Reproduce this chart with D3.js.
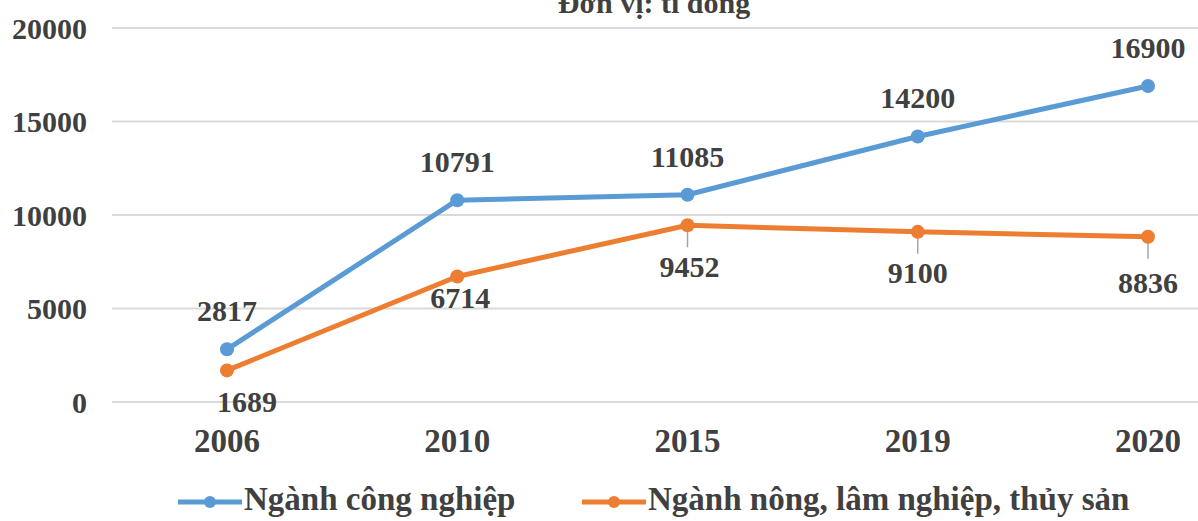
<!DOCTYPE html>
<html>
<head>
<meta charset="utf-8">
<script src="https://cdn.jsdelivr.net/npm/d3@7"></script>
<style>
  body { margin: 0; background: #fff; }
  text { font-family: "Liberation Serif", "Times New Roman", serif; font-weight: bold; fill: #404040; }
</style>
</head>
<body>
<div id="chart"></div>
<script>
// Data
const years = ["2006", "2010", "2015", "2019", "2020"];
const congNghiep = [2817, 10791, 11085, 14200, 16900];
const nongNghiep = [1689, 6714, 9452, 9100, 8836];
const yTicks = [0, 5000, 10000, 15000, 20000];
const seriesNames = ["Ngành công nghiệp", "Ngành nông, lâm nghiệp, thủy sản"];

const width = 1198;
const height = 521;
const blue = "#5B9BD5";
const orange = "#ED7D31";

const svg = d3.select("#chart")
  .append("svg")
    .attr("width", width)
    .attr("height", height);

// Scales
const x = d3.scalePoint()
  .domain(years)
  .range([227, 1148]);
const y = d3.scaleLinear()
  .domain([0, 20000])
  .range([402, 28]);

// Title (cut off at top, as in the original)
svg.append("text")
  .attr("x", 654)
  .attr("y", 13)
  .attr("text-anchor", "middle")
  .attr("font-size", 30)
  .text("Đơn vị: tỉ đồng");

// Gridlines
svg.append("g")
  .selectAll("line")
  .data(yTicks)
  .join("line")
    .attr("x1", 112)
    .attr("x2", width)
    .attr("y1", d => y(d))
    .attr("y2", d => y(d))
    .attr("stroke", "#d9d9d9")
    .attr("stroke-width", 2);

// Y labels
svg.append("g")
  .selectAll("text")
  .data(yTicks)
  .join("text")
    .attr("x", 87)
    .attr("y", d => y(d))
    .attr("dy", "0.35em")
    .attr("text-anchor", "end")
    .attr("font-size", 30)
    .text(d => d);

// X labels
svg.append("g")
  .selectAll("text")
  .data(years)
  .join("text")
    .attr("x", d => x(d))
    .attr("y", 452)
    .attr("text-anchor", "middle")
    .attr("font-size", 33)
    .text(d => d);

const line = d3.line()
  .x((d, i) => x(years[i]))
  .y(d => y(d));

const drawSeries = (values, color) => {
  svg.append("path")
    .attr("d", line(values))
    .attr("fill", "none")
    .attr("stroke", color)
    .attr("stroke-width", 5)
    .attr("stroke-linejoin", "round");
  svg.append("g")
    .selectAll("circle")
    .data(values)
    .join("circle")
      .attr("cx", (d, i) => x(years[i]))
      .attr("cy", d => y(d))
      .attr("r", 7)
      .attr("fill", color);
};

// Leader lines for the orange labels (moved labels)
const orangeNudge = [[20, 42], [3, 32], [2, 52], [0, 51], [0, 56]];
svg.append("g")
  .selectAll("line")
  .data(nongNghiep.slice(2))
  .join("line")
    .attr("x1", (d, i) => x(years[i + 2]))
    .attr("x2", (d, i) => x(years[i + 2]))
    .attr("y1", d => y(d))
    .attr("y2", d => y(d) + 22)
    .attr("stroke", "#a6a6a6")
    .attr("stroke-width", 1.5);

drawSeries(congNghiep, blue);
drawSeries(nongNghiep, orange);

// Data labels
svg.append("g")
  .selectAll("text")
  .data(congNghiep)
  .join("text")
    .attr("x", (d, i) => x(years[i]))
    .attr("y", d => y(d) - 28)
    .attr("text-anchor", "middle")
    .attr("font-size", 30)
    .text(d => d);

svg.append("g")
  .selectAll("text")
  .data(nongNghiep)
  .join("text")
    .attr("x", (d, i) => x(years[i]) + orangeNudge[i][0])
    .attr("y", (d, i) => y(d) + orangeNudge[i][1])
    .attr("text-anchor", "middle")
    .attr("font-size", 30)
    .text(d => d);

// Legend
const legend = svg.append("g");
const legendItems = [
  { name: seriesNames[0], color: blue, x0: 178 },
  { name: seriesNames[1], color: orange, x0: 582 }
];
legendItems.forEach(item => {
  legend.append("line")
    .attr("x1", item.x0)
    .attr("x2", item.x0 + 64)
    .attr("y1", 502)
    .attr("y2", 502)
    .attr("stroke", item.color)
    .attr("stroke-width", 5);
  legend.append("circle")
    .attr("cx", item.x0 + 32)
    .attr("cy", 502)
    .attr("r", 6)
    .attr("fill", item.color);
  legend.append("text")
    .attr("x", item.x0 + 66)
    .attr("y", 510)
    .attr("font-size", 33)
    .text(item.name);
});
</script>
</body>
</html>
